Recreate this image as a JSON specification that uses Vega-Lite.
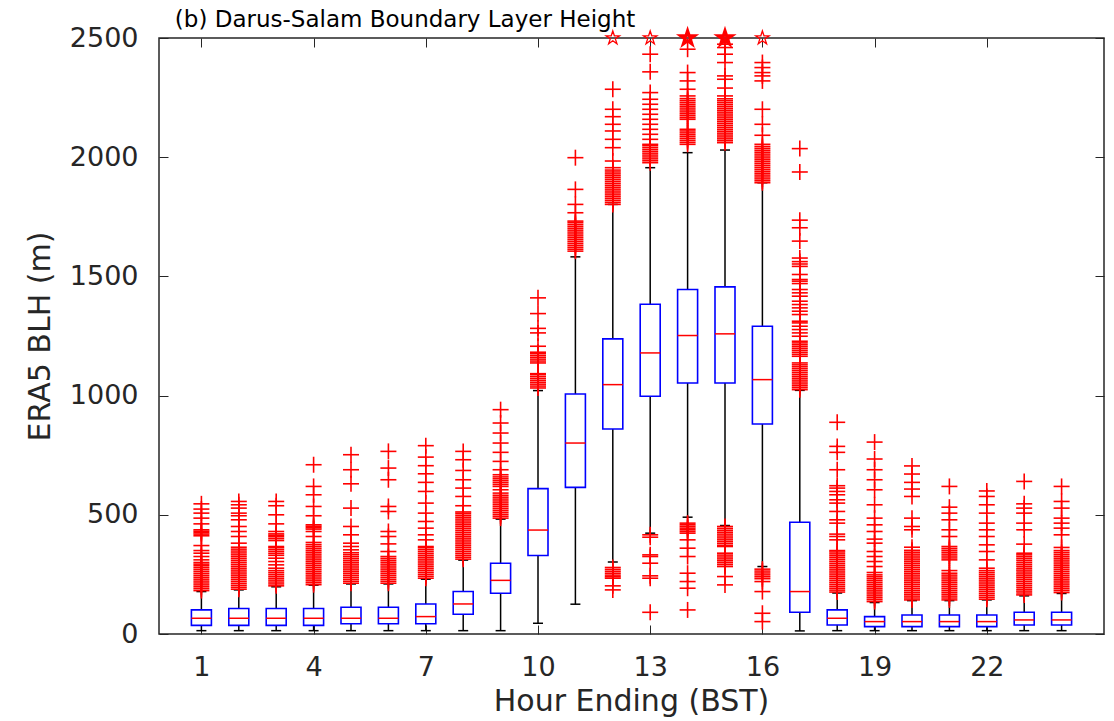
{
"$schema": "https://vega.github.io/schema/vega-lite/v6.json",
"autosize": "none",
"width": 945,
"height": 596,
"padding": {"left": 159, "top": 38, "right": 10, "bottom": 87},
"background": "white",
"config": {"font": "DejaVu Sans", "view": {"stroke": "#262626", "strokeWidth": 1.5}},
"datasets": {
"boxstats": [
{"h":1,"lo":14,"q1":36,"med":66,"q3":101,"hi":178},
{"h":2,"lo":14,"q1":36,"med":66,"q3":107,"hi":185},
{"h":3,"lo":14,"q1":36,"med":66,"q3":107,"hi":198},
{"h":4,"lo":14,"q1":36,"med":66,"q3":107,"hi":205},
{"h":5,"lo":14,"q1":43,"med":66,"q3":112,"hi":210},
{"h":6,"lo":14,"q1":43,"med":66,"q3":112,"hi":210},
{"h":7,"lo":14,"q1":43,"med":73,"q3":126,"hi":230},
{"h":8,"lo":14,"q1":83,"med":126,"q3":178,"hi":310},
{"h":9,"lo":14,"q1":171,"med":225,"q3":297,"hi":482},
{"h":10,"lo":45,"q1":329,"med":436,"q3":610,"hi":1021},
{"h":11,"lo":125,"q1":615,"med":801,"q3":1007,"hi":1582},
{"h":12,"lo":302,"q1":860,"med":1046,"q3":1238,"hi":1802},
{"h":13,"lo":423,"q1":997,"med":1179,"q3":1383,"hi":1956},
{"h":14,"lo":490,"q1":1053,"med":1252,"q3":1445,"hi":2019},
{"h":15,"lo":455,"q1":1053,"med":1259,"q3":1456,"hi":2030},
{"h":16,"lo":283,"q1":881,"med":1067,"q3":1291,"hi":1893},
{"h":17,"lo":13,"q1":91,"med":178,"q3":469,"hi":1022},
{"h":18,"lo":14,"q1":38,"med":66,"q3":101,"hi":172},
{"h":19,"lo":14,"q1":31,"med":52,"q3":73,"hi":132},
{"h":20,"lo":14,"q1":31,"med":52,"q3":80,"hi":140},
{"h":21,"lo":14,"q1":31,"med":52,"q3":80,"hi":140},
{"h":22,"lo":14,"q1":31,"med":52,"q3":80,"hi":143},
{"h":23,"lo":14,"q1":38,"med":59,"q3":91,"hi":160},
{"h":24,"lo":14,"q1":38,"med":59,"q3":91,"hi":170}
],
"clipped": [
{"h":12,"v":2500,"n":1},
{"h":13,"v":2500,"n":1},
{"h":14,"v":2500,"n":4},
{"h":15,"v":2500,"n":4},
{"h":16,"v":2500,"n":1}
],
"outliers": [
{"h":1,"v":182},{"h":1,"v":190},{"h":1,"v":198},{"h":1,"v":206},{"h":1,"v":214},{"h":1,"v":222},{"h":1,"v":230},{"h":1,"v":238},{"h":1,"v":246},{"h":1,"v":254},{"h":1,"v":262},{"h":1,"v":270},{"h":1,"v":278},{"h":1,"v":286},{"h":1,"v":293},{"h":1,"v":300},{"h":1,"v":311},{"h":1,"v":325},{"h":1,"v":339},{"h":1,"v":350},{"h":1,"v":371},{"h":1,"v":412},{"h":1,"v":419},{"h":1,"v":425},{"h":1,"v":431},{"h":1,"v":437},{"h":1,"v":462},{"h":1,"v":486},{"h":1,"v":507},{"h":1,"v":524},{"h":1,"v":546},
{"h":2,"v":188},{"h":2,"v":196},{"h":2,"v":204},{"h":2,"v":212},{"h":2,"v":220},{"h":2,"v":228},{"h":2,"v":236},{"h":2,"v":244},{"h":2,"v":252},{"h":2,"v":260},{"h":2,"v":268},{"h":2,"v":276},{"h":2,"v":284},{"h":2,"v":292},{"h":2,"v":300},{"h":2,"v":308},{"h":2,"v":316},{"h":2,"v":324},{"h":2,"v":332},{"h":2,"v":340},{"h":2,"v":348},{"h":2,"v":356},{"h":2,"v":364},{"h":2,"v":381},{"h":2,"v":409},{"h":2,"v":430},{"h":2,"v":451},{"h":2,"v":479},{"h":2,"v":496},{"h":2,"v":507},{"h":2,"v":528},{"h":2,"v":542},{"h":2,"v":556},
{"h":3,"v":202},{"h":3,"v":210},{"h":3,"v":218},{"h":3,"v":226},{"h":3,"v":234},{"h":3,"v":242},{"h":3,"v":250},{"h":3,"v":258},{"h":3,"v":266},{"h":3,"v":276},{"h":3,"v":290},{"h":3,"v":304},{"h":3,"v":318},{"h":3,"v":330},{"h":3,"v":338},{"h":3,"v":346},{"h":3,"v":354},{"h":3,"v":362},{"h":3,"v":367},{"h":3,"v":392},{"h":3,"v":400},{"h":3,"v":408},{"h":3,"v":414},{"h":3,"v":420},{"h":3,"v":430},{"h":3,"v":462},{"h":3,"v":500},{"h":3,"v":538},{"h":3,"v":556},
{"h":4,"v":207},{"h":4,"v":215},{"h":4,"v":223},{"h":4,"v":231},{"h":4,"v":239},{"h":4,"v":247},{"h":4,"v":255},{"h":4,"v":263},{"h":4,"v":271},{"h":4,"v":279},{"h":4,"v":287},{"h":4,"v":295},{"h":4,"v":303},{"h":4,"v":311},{"h":4,"v":319},{"h":4,"v":327},{"h":4,"v":335},{"h":4,"v":343},{"h":4,"v":351},{"h":4,"v":359},{"h":4,"v":367},{"h":4,"v":375},{"h":4,"v":384},{"h":4,"v":409},{"h":4,"v":430},{"h":4,"v":440},{"h":4,"v":446},{"h":4,"v":452},{"h":4,"v":458},{"h":4,"v":496},{"h":4,"v":535},{"h":4,"v":584},{"h":4,"v":619},{"h":4,"v":710},
{"h":5,"v":213},{"h":5,"v":221},{"h":5,"v":229},{"h":5,"v":237},{"h":5,"v":245},{"h":5,"v":253},{"h":5,"v":261},{"h":5,"v":269},{"h":5,"v":277},{"h":5,"v":285},{"h":5,"v":293},{"h":5,"v":301},{"h":5,"v":309},{"h":5,"v":317},{"h":5,"v":325},{"h":5,"v":333},{"h":5,"v":341},{"h":5,"v":353},{"h":5,"v":367},{"h":5,"v":381},{"h":5,"v":416},{"h":5,"v":451},{"h":5,"v":528},{"h":5,"v":630},{"h":5,"v":689},{"h":5,"v":752},
{"h":6,"v":213},{"h":6,"v":221},{"h":6,"v":229},{"h":6,"v":237},{"h":6,"v":245},{"h":6,"v":253},{"h":6,"v":261},{"h":6,"v":269},{"h":6,"v":277},{"h":6,"v":285},{"h":6,"v":293},{"h":6,"v":301},{"h":6,"v":309},{"h":6,"v":317},{"h":6,"v":325},{"h":6,"v":346},{"h":6,"v":378},{"h":6,"v":409},{"h":6,"v":430},{"h":6,"v":514},{"h":6,"v":535},{"h":6,"v":647},{"h":6,"v":696},{"h":6,"v":766},
{"h":7,"v":234},{"h":7,"v":242},{"h":7,"v":250},{"h":7,"v":258},{"h":7,"v":266},{"h":7,"v":274},{"h":7,"v":282},{"h":7,"v":290},{"h":7,"v":298},{"h":7,"v":306},{"h":7,"v":314},{"h":7,"v":322},{"h":7,"v":330},{"h":7,"v":338},{"h":7,"v":346},{"h":7,"v":354},{"h":7,"v":362},{"h":7,"v":367},{"h":7,"v":395},{"h":7,"v":416},{"h":7,"v":444},{"h":7,"v":472},{"h":7,"v":507},{"h":7,"v":549},{"h":7,"v":598},{"h":7,"v":636},{"h":7,"v":672},{"h":7,"v":706},{"h":7,"v":742},{"h":7,"v":790},
{"h":8,"v":314},{"h":8,"v":322},{"h":8,"v":330},{"h":8,"v":338},{"h":8,"v":346},{"h":8,"v":354},{"h":8,"v":362},{"h":8,"v":370},{"h":8,"v":378},{"h":8,"v":386},{"h":8,"v":394},{"h":8,"v":402},{"h":8,"v":410},{"h":8,"v":418},{"h":8,"v":426},{"h":8,"v":434},{"h":8,"v":442},{"h":8,"v":450},{"h":8,"v":458},{"h":8,"v":466},{"h":8,"v":474},{"h":8,"v":482},{"h":8,"v":490},{"h":8,"v":498},{"h":8,"v":506},{"h":8,"v":512},{"h":8,"v":538},{"h":8,"v":577},{"h":8,"v":612},{"h":8,"v":647},{"h":8,"v":686},{"h":8,"v":731},{"h":8,"v":766},
{"h":9,"v":486},{"h":9,"v":494},{"h":9,"v":502},{"h":9,"v":510},{"h":9,"v":518},{"h":9,"v":526},{"h":9,"v":534},{"h":9,"v":542},{"h":9,"v":550},{"h":9,"v":558},{"h":9,"v":566},{"h":9,"v":574},{"h":9,"v":582},{"h":9,"v":591},{"h":9,"v":605},{"h":9,"v":619},{"h":9,"v":627},{"h":9,"v":635},{"h":9,"v":643},{"h":9,"v":651},{"h":9,"v":659},{"h":9,"v":668},{"h":9,"v":689},{"h":9,"v":724},{"h":9,"v":762},{"h":9,"v":801},{"h":9,"v":843},{"h":9,"v":885},{"h":9,"v":941},
{"h":10,"v":1032},{"h":10,"v":1040},{"h":10,"v":1048},{"h":10,"v":1056},{"h":10,"v":1064},{"h":10,"v":1072},{"h":10,"v":1080},{"h":10,"v":1088},{"h":10,"v":1092},{"h":10,"v":1137},{"h":10,"v":1145},{"h":10,"v":1153},{"h":10,"v":1161},{"h":10,"v":1169},{"h":10,"v":1177},{"h":10,"v":1182},{"h":10,"v":1207},{"h":10,"v":1263},{"h":10,"v":1282},{"h":10,"v":1344},{"h":10,"v":1410},
{"h":11,"v":1606},{"h":11,"v":1614},{"h":11,"v":1622},{"h":11,"v":1630},{"h":11,"v":1638},{"h":11,"v":1646},{"h":11,"v":1654},{"h":11,"v":1662},{"h":11,"v":1670},{"h":11,"v":1678},{"h":11,"v":1686},{"h":11,"v":1694},{"h":11,"v":1702},{"h":11,"v":1710},{"h":11,"v":1718},{"h":11,"v":1726},{"h":11,"v":1732},{"h":11,"v":1767},{"h":11,"v":1802},{"h":11,"v":1865},{"h":11,"v":1998},
{"h":12,"v":185},{"h":12,"v":202},{"h":12,"v":234},{"h":12,"v":240},{"h":12,"v":247},{"h":12,"v":255},{"h":12,"v":263},{"h":12,"v":271},{"h":12,"v":279},{"h":12,"v":1802},{"h":12,"v":1810},{"h":12,"v":1818},{"h":12,"v":1826},{"h":12,"v":1834},{"h":12,"v":1842},{"h":12,"v":1850},{"h":12,"v":1858},{"h":12,"v":1866},{"h":12,"v":1874},{"h":12,"v":1882},{"h":12,"v":1890},{"h":12,"v":1898},{"h":12,"v":1906},{"h":12,"v":1914},{"h":12,"v":1922},{"h":12,"v":1930},{"h":12,"v":1938},{"h":12,"v":1946},{"h":12,"v":1956},{"h":12,"v":1984},{"h":12,"v":2040},{"h":12,"v":2075},{"h":12,"v":2110},{"h":12,"v":2138},{"h":12,"v":2170},{"h":12,"v":2201},{"h":12,"v":2285},
{"h":13,"v":91},{"h":13,"v":234},{"h":13,"v":244},{"h":13,"v":297},{"h":13,"v":325},{"h":13,"v":332},{"h":13,"v":406},{"h":13,"v":416},{"h":13,"v":1977},{"h":13,"v":1985},{"h":13,"v":1993},{"h":13,"v":2001},{"h":13,"v":2009},{"h":13,"v":2017},{"h":13,"v":2025},{"h":13,"v":2033},{"h":13,"v":2041},{"h":13,"v":2049},{"h":13,"v":2054},{"h":13,"v":2075},{"h":13,"v":2096},{"h":13,"v":2117},{"h":13,"v":2138},{"h":13,"v":2159},{"h":13,"v":2180},{"h":13,"v":2201},{"h":13,"v":2222},{"h":13,"v":2243},{"h":13,"v":2271},{"h":13,"v":2358},{"h":13,"v":2432},
{"h":14,"v":101},{"h":14,"v":192},{"h":14,"v":220},{"h":14,"v":255},{"h":14,"v":325},{"h":14,"v":360},{"h":14,"v":395},{"h":14,"v":423},{"h":14,"v":430},{"h":14,"v":437},{"h":14,"v":444},{"h":14,"v":451},{"h":14,"v":458},{"h":14,"v":465},{"h":14,"v":2054},{"h":14,"v":2062},{"h":14,"v":2070},{"h":14,"v":2078},{"h":14,"v":2086},{"h":14,"v":2094},{"h":14,"v":2102},{"h":14,"v":2110},{"h":14,"v":2117},{"h":14,"v":2159},{"h":14,"v":2166},{"h":14,"v":2174},{"h":14,"v":2182},{"h":14,"v":2190},{"h":14,"v":2198},{"h":14,"v":2206},{"h":14,"v":2214},{"h":14,"v":2222},{"h":14,"v":2230},{"h":14,"v":2238},{"h":14,"v":2246},{"h":14,"v":2257},{"h":14,"v":2285},{"h":14,"v":2320},{"h":14,"v":2355},{"h":14,"v":2453},
{"h":15,"v":206},{"h":15,"v":241},{"h":15,"v":283},{"h":15,"v":291},{"h":15,"v":299},{"h":15,"v":307},{"h":15,"v":315},{"h":15,"v":323},{"h":15,"v":331},{"h":15,"v":339},{"h":15,"v":367},{"h":15,"v":371},{"h":15,"v":379},{"h":15,"v":387},{"h":15,"v":395},{"h":15,"v":403},{"h":15,"v":411},{"h":15,"v":419},{"h":15,"v":427},{"h":15,"v":435},{"h":15,"v":443},{"h":15,"v":451},{"h":15,"v":2061},{"h":15,"v":2069},{"h":15,"v":2077},{"h":15,"v":2085},{"h":15,"v":2093},{"h":15,"v":2101},{"h":15,"v":2109},{"h":15,"v":2117},{"h":15,"v":2125},{"h":15,"v":2133},{"h":15,"v":2141},{"h":15,"v":2149},{"h":15,"v":2157},{"h":15,"v":2165},{"h":15,"v":2173},{"h":15,"v":2181},{"h":15,"v":2189},{"h":15,"v":2197},{"h":15,"v":2205},{"h":15,"v":2213},{"h":15,"v":2221},{"h":15,"v":2229},{"h":15,"v":2237},{"h":15,"v":2245},{"h":15,"v":2257},{"h":15,"v":2290},{"h":15,"v":2327},{"h":15,"v":2341},{"h":15,"v":2397},{"h":15,"v":2432},{"h":15,"v":2460},{"h":15,"v":2474},
{"h":16,"v":52},{"h":16,"v":87},{"h":16,"v":178},{"h":16,"v":220},{"h":16,"v":232},{"h":16,"v":240},{"h":16,"v":248},{"h":16,"v":256},{"h":16,"v":264},{"h":16,"v":272},{"h":16,"v":1893},{"h":16,"v":1901},{"h":16,"v":1909},{"h":16,"v":1917},{"h":16,"v":1925},{"h":16,"v":1933},{"h":16,"v":1941},{"h":16,"v":1949},{"h":16,"v":1957},{"h":16,"v":1965},{"h":16,"v":1973},{"h":16,"v":1981},{"h":16,"v":1989},{"h":16,"v":1997},{"h":16,"v":2005},{"h":16,"v":2013},{"h":16,"v":2021},{"h":16,"v":2029},{"h":16,"v":2037},{"h":16,"v":2045},{"h":16,"v":2054},{"h":16,"v":2092},{"h":16,"v":2138},{"h":16,"v":2201},{"h":16,"v":2320},{"h":16,"v":2341},{"h":16,"v":2355},{"h":16,"v":2376},{"h":16,"v":2397},
{"h":17,"v":1025},{"h":17,"v":1033},{"h":17,"v":1041},{"h":17,"v":1049},{"h":17,"v":1057},{"h":17,"v":1065},{"h":17,"v":1073},{"h":17,"v":1081},{"h":17,"v":1089},{"h":17,"v":1097},{"h":17,"v":1105},{"h":17,"v":1113},{"h":17,"v":1121},{"h":17,"v":1129},{"h":17,"v":1137},{"h":17,"v":1165},{"h":17,"v":1173},{"h":17,"v":1181},{"h":17,"v":1189},{"h":17,"v":1197},{"h":17,"v":1205},{"h":17,"v":1213},{"h":17,"v":1221},{"h":17,"v":1228},{"h":17,"v":1249},{"h":17,"v":1263},{"h":17,"v":1277},{"h":17,"v":1291},{"h":17,"v":1305},{"h":17,"v":1312},{"h":17,"v":1340},{"h":17,"v":1354},{"h":17,"v":1368},{"h":17,"v":1382},{"h":17,"v":1396},{"h":17,"v":1417},{"h":17,"v":1431},{"h":17,"v":1445},{"h":17,"v":1470},{"h":17,"v":1480},{"h":17,"v":1487},{"h":17,"v":1508},{"h":17,"v":1542},{"h":17,"v":1552},{"h":17,"v":1562},{"h":17,"v":1577},{"h":17,"v":1648},{"h":17,"v":1704},{"h":17,"v":1736},{"h":17,"v":1938},{"h":17,"v":2036},
{"h":18,"v":176},{"h":18,"v":184},{"h":18,"v":192},{"h":18,"v":200},{"h":18,"v":208},{"h":18,"v":216},{"h":18,"v":224},{"h":18,"v":232},{"h":18,"v":240},{"h":18,"v":248},{"h":18,"v":256},{"h":18,"v":264},{"h":18,"v":272},{"h":18,"v":280},{"h":18,"v":288},{"h":18,"v":296},{"h":18,"v":304},{"h":18,"v":312},{"h":18,"v":320},{"h":18,"v":328},{"h":18,"v":336},{"h":18,"v":344},{"h":18,"v":350},{"h":18,"v":395},{"h":18,"v":409},{"h":18,"v":419},{"h":18,"v":465},{"h":18,"v":479},{"h":18,"v":514},{"h":18,"v":549},{"h":18,"v":563},{"h":18,"v":584},{"h":18,"v":598},{"h":18,"v":612},{"h":18,"v":622},{"h":18,"v":689},{"h":18,"v":762},{"h":18,"v":787},{"h":18,"v":888},
{"h":19,"v":136},{"h":19,"v":144},{"h":19,"v":152},{"h":19,"v":160},{"h":19,"v":168},{"h":19,"v":176},{"h":19,"v":184},{"h":19,"v":192},{"h":19,"v":200},{"h":19,"v":208},{"h":19,"v":216},{"h":19,"v":224},{"h":19,"v":232},{"h":19,"v":240},{"h":19,"v":248},{"h":19,"v":258},{"h":19,"v":283},{"h":19,"v":304},{"h":19,"v":325},{"h":19,"v":346},{"h":19,"v":381},{"h":19,"v":398},{"h":19,"v":430},{"h":19,"v":458},{"h":19,"v":486},{"h":19,"v":542},{"h":19,"v":605},{"h":19,"v":647},{"h":19,"v":689},{"h":19,"v":734},{"h":19,"v":805},
{"h":20,"v":143},{"h":20,"v":151},{"h":20,"v":159},{"h":20,"v":167},{"h":20,"v":175},{"h":20,"v":183},{"h":20,"v":191},{"h":20,"v":199},{"h":20,"v":207},{"h":20,"v":215},{"h":20,"v":223},{"h":20,"v":231},{"h":20,"v":239},{"h":20,"v":247},{"h":20,"v":255},{"h":20,"v":263},{"h":20,"v":271},{"h":20,"v":279},{"h":20,"v":287},{"h":20,"v":295},{"h":20,"v":303},{"h":20,"v":311},{"h":20,"v":319},{"h":20,"v":327},{"h":20,"v":335},{"h":20,"v":343},{"h":20,"v":351},{"h":20,"v":364},{"h":20,"v":437},{"h":20,"v":451},{"h":20,"v":486},{"h":20,"v":577},{"h":20,"v":608},{"h":20,"v":636},{"h":20,"v":671},{"h":20,"v":705},
{"h":21,"v":143},{"h":21,"v":151},{"h":21,"v":159},{"h":21,"v":167},{"h":21,"v":175},{"h":21,"v":183},{"h":21,"v":191},{"h":21,"v":199},{"h":21,"v":207},{"h":21,"v":215},{"h":21,"v":223},{"h":21,"v":231},{"h":21,"v":239},{"h":21,"v":247},{"h":21,"v":255},{"h":21,"v":266},{"h":21,"v":311},{"h":21,"v":319},{"h":21,"v":327},{"h":21,"v":335},{"h":21,"v":343},{"h":21,"v":351},{"h":21,"v":359},{"h":21,"v":367},{"h":21,"v":409},{"h":21,"v":437},{"h":21,"v":479},{"h":21,"v":507},{"h":21,"v":532},{"h":21,"v":619},
{"h":22,"v":146},{"h":22,"v":154},{"h":22,"v":162},{"h":22,"v":170},{"h":22,"v":178},{"h":22,"v":186},{"h":22,"v":194},{"h":22,"v":202},{"h":22,"v":210},{"h":22,"v":218},{"h":22,"v":226},{"h":22,"v":234},{"h":22,"v":242},{"h":22,"v":250},{"h":22,"v":258},{"h":22,"v":266},{"h":22,"v":276},{"h":22,"v":311},{"h":22,"v":346},{"h":22,"v":374},{"h":22,"v":409},{"h":22,"v":437},{"h":22,"v":465},{"h":22,"v":507},{"h":22,"v":542},{"h":22,"v":577},{"h":22,"v":600},
{"h":23,"v":164},{"h":23,"v":172},{"h":23,"v":180},{"h":23,"v":188},{"h":23,"v":196},{"h":23,"v":204},{"h":23,"v":212},{"h":23,"v":220},{"h":23,"v":228},{"h":23,"v":236},{"h":23,"v":244},{"h":23,"v":252},{"h":23,"v":260},{"h":23,"v":268},{"h":23,"v":276},{"h":23,"v":284},{"h":23,"v":292},{"h":23,"v":300},{"h":23,"v":308},{"h":23,"v":316},{"h":23,"v":324},{"h":23,"v":332},{"h":23,"v":339},{"h":23,"v":377},{"h":23,"v":437},{"h":23,"v":465},{"h":23,"v":507},{"h":23,"v":528},{"h":23,"v":546},{"h":23,"v":640},
{"h":24,"v":174},{"h":24,"v":182},{"h":24,"v":190},{"h":24,"v":198},{"h":24,"v":206},{"h":24,"v":214},{"h":24,"v":222},{"h":24,"v":230},{"h":24,"v":238},{"h":24,"v":246},{"h":24,"v":254},{"h":24,"v":262},{"h":24,"v":270},{"h":24,"v":278},{"h":24,"v":286},{"h":24,"v":294},{"h":24,"v":302},{"h":24,"v":310},{"h":24,"v":318},{"h":24,"v":326},{"h":24,"v":334},{"h":24,"v":342},{"h":24,"v":350},{"h":24,"v":363},{"h":24,"v":416},{"h":24,"v":444},{"h":24,"v":465},{"h":24,"v":486},{"h":24,"v":528},{"h":24,"v":556},{"h":24,"v":619}
]
},
"layer": [
{
"data": {"name": "boxstats"},
"mark": {"type": "rule", "color": "#000000", "strokeWidth": 1.5},
"encoding": {
"x": {"field": "h", "type": "quantitative", "scale": {"domain": [0, 25], "nice": false, "zero": false},
"axis": {"orient": "top", "values": [1,4,7,10,13,16,19,22], "title": "Hour Ending (BST)", "grid": false, "domain": false, "tickSize": -596, "tickDash": [9, 578], "tickWidth": 1, "tickColor": "#262626", "labelFontSize": 27, "labelColor": "#262626", "labelPadding": -20, "labelBaseline": "top", "labelFlush": false, "labelOverlap": false, "titleFontSize": 30, "titleFontWeight": "normal", "titleColor": "#262626", "titleX": 472, "titleY": 648, "titleAlign": "center", "titleBaseline": "top", "titleAngle": 0}},
"y": {"field": "lo", "type": "quantitative", "scale": {"domain": [0, 2500], "nice": false},
"axis": {"orient": "left", "values": [0,500,1000,1500,2000,2500], "format": "d", "title": "ERA5 BLH (m)", "grid": false, "domain": false, "tickSize": -945, "tickDash": [9, 927], "tickWidth": 1, "tickColor": "#262626", "labelFontSize": 27, "labelColor": "#262626", "labelPadding": 966, "labelFlush": false, "labelOverlap": false, "titleFontSize": 30, "titleFontWeight": "normal", "titleColor": "#262626", "titleX": -119, "titleY": 298, "titleAngle": 270, "titleAlign": "center", "titleBaseline": "middle"}},
"y2": {"field": "hi"}
}
},
{
"data": {"values": [{"label": "(b) Darus-Salam Boundary Layer Height"}]},
"mark": {"type": "text", "align": "left", "baseline": "alphabetic", "fontSize": 23, "color": "#000000", "font": "DejaVu Sans"},
"encoding": {
"x": {"datum": 0.29, "type": "quantitative"},
"y": {"datum": 2546, "type": "quantitative"},
"text": {"field": "label"}
}
},
{
"data": {"name": "boxstats"},
"mark": {"type": "bar", "size": 20, "fill": "#ffffff", "stroke": "#0000ff", "strokeWidth": 1.6},
"encoding": {
"x": {"field": "h", "type": "quantitative"},
"y": {"field": "q1", "type": "quantitative"},
"y2": {"field": "q3"}
}
},
{
"data": {"name": "boxstats"},
"mark": {"type": "tick", "orient": "horizontal", "size": 20, "thickness": 1.5, "color": "#ff0000", "opacity": 1},
"encoding": {
"x": {"field": "h", "type": "quantitative"},
"y": {"field": "med", "type": "quantitative"}
}
},
{
"data": {"name": "boxstats"},
"mark": {"type": "tick", "orient": "horizontal", "size": 10, "thickness": 1.5, "color": "#000000", "opacity": 1},
"encoding": {
"x": {"field": "h", "type": "quantitative"},
"y": {"field": "lo", "type": "quantitative"}
}
},
{
"data": {"name": "boxstats"},
"mark": {"type": "tick", "orient": "horizontal", "size": 10, "thickness": 1.5, "color": "#000000", "opacity": 1},
"encoding": {
"x": {"field": "h", "type": "quantitative"},
"y": {"field": "hi", "type": "quantitative"}
}
},
{
"data": {"name": "outliers"},
"mark": {"type": "tick", "orient": "horizontal", "size": 16, "thickness": 1.6, "color": "#ff0000", "opacity": 1},
"encoding": {
"x": {"field": "h", "type": "quantitative"},
"y": {"field": "v", "type": "quantitative"}
}
},
{
"data": {"name": "outliers"},
"mark": {"type": "tick", "orient": "vertical", "size": 16, "thickness": 1.6, "color": "#ff0000", "opacity": 1},
"encoding": {
"x": {"field": "h", "type": "quantitative"},
"y": {"field": "v", "type": "quantitative"}
}
},
{
"data": {"name": "clipped"},
"mark": {"type": "point", "shape": "M0,-1L0.225,-0.309L0.951,-0.309L0.363,0.118L0.588,0.809L0,0.382L-0.588,0.809L-0.363,0.118L-0.951,-0.309L-0.225,-0.309Z", "filled": false, "fill": null, "stroke": "#ff0000", "strokeWidth": 1.3, "size": 200, "opacity": 1},
"encoding": {
"x": {"field": "h", "type": "quantitative"},
"y": {"field": "v", "type": "quantitative"}
}
},
{
"data": {"name": "clipped"},
"transform": [{"filter": "datum.n > 1"}],
"mark": {"type": "point", "shape": "M0,-1L0.225,-0.309L0.951,-0.309L0.363,0.118L0.588,0.809L0,0.382L-0.588,0.809L-0.363,0.118L-0.951,-0.309L-0.225,-0.309Z", "filled": false, "fill": null, "stroke": "#ff0000", "strokeWidth": 3.2, "size": 200, "opacity": 1},
"encoding": {
"x": {"field": "h", "type": "quantitative"},
"y": {"field": "v", "type": "quantitative"}
}
}
]
}
